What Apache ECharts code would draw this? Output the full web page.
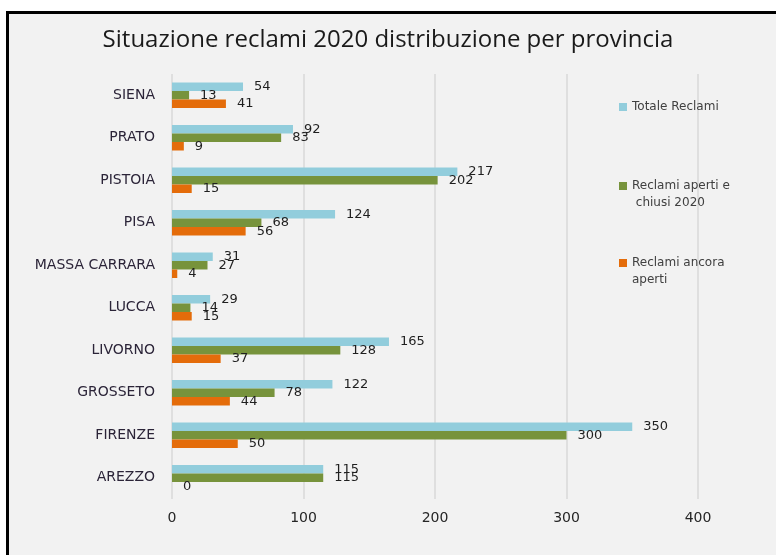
<!DOCTYPE html>
<html>
<head>
<meta charset="utf-8">
<script src="https://cdn.jsdelivr.net/npm/echarts@6/dist/echarts.min.js"></script>
<style>
  html, body { margin: 0; padding: 0; background: #fff; }
  #frame {
    position: absolute; left: 6px; top: 11px; width: 800px; height: 600px;
    border-left: 3px solid #000; border-top: 3px solid #000;
    background: #f2f2f2;
  }
  #chart { position: absolute; left: 0; top: 0; width: 776px; height: 555px; }
</style>
</head>
<body>
<div id="frame"></div>
<div id="chart"></div>
<script>
// province, top to bottom as drawn
var province = ['SIENA', 'PRATO', 'PISTOIA', 'PISA', 'MASSA CARRARA', 'LUCCA', 'LIVORNO', 'GROSSETO', 'FIRENZE', 'AREZZO']
var totaleReclami = [54, 92, 217, 124, 31, 29, 165, 122, 350, 115]
var apertiChiusi = [13, 83, 202, 68, 27, 14, 128, 78, 300, 115]
var ancoraAperti = [41, 9, 15, 56, 4, 15, 37, 44, 50, 0]
var xTicks = [0, 100, 200, 300, 400]

var nomi = ['Totale Reclami', 'Reclami aperti e chiusi 2020', 'Reclami ancora aperti']
var colori = ['#92cddc', '#77933c', '#e46c0a']

function serie(name, data, color) {
    return {
        name: name,
        type: 'bar',
        data: data,
        barWidth: 8.5,
        barGap: '0%',
        itemStyle: { color: color },
        label: {
            show: true,
            position: 'right',
            distance: 11,
            color: '#1f1f1f',
            fontFamily: 'DejaVu Sans',
            fontSize: 13
        }
    }
}

// one legend per series so each sits where the original puts it
function legenda(name, top) {
    return {
        orient: 'vertical',
        left: 619,
        top: top,
        padding: 0,
        itemWidth: 8,
        itemHeight: 8,
        icon: 'rect',
        data: [name],
        formatter: function(n) {
            // empty first line keeps the marker beside the first text line
            if (n === 'Reclami aperti e chiusi 2020') return '\nReclami aperti e\n chiusi 2020'
            if (n === 'Reclami ancora aperti') return '\nReclami ancora\naperti'
            return n
        },
        textStyle: {
            fontFamily: 'DejaVu Sans',
            fontSize: 12,
            color: '#404040',
            lineHeight: 17
        }
    }
}

var chart = echarts.init(document.getElementById('chart'))
chart.setOption({
    animation: false,
    backgroundColor: 'transparent',
    color: colori,
    title: {
        text: 'Situazione reclami 2020 distribuzione per provincia',
        left: 'center',
        top: 23,
        textStyle: {
            fontFamily: 'Open Sans',
            fontWeight: 'normal',
            fontSize: 24,
            color: '#1a1a1a'
        }
    },
    legend: [
        legenda(nomi[0], 98.5),
        legenda(nomi[1], 160.5),
        legenda(nomi[2], 237.5)
    ],
    grid: { left: 172, right: 78, top: 74, bottom: 56 },
    xAxis: {
        type: 'value',
        min: xTicks[0],
        max: xTicks[xTicks.length - 1],
        interval: 100,
        axisLine: { show: false },
        axisTick: { show: false },
        splitLine: { lineStyle: { color: '#d9d9d9', width: 1.5 } },
        axisLabel: {
            margin: 12,
            color: '#262626',
            fontFamily: 'DejaVu Sans',
            fontSize: 14
        }
    },
    yAxis: {
        type: 'category',
        data: province,
        inverse: true,
        axisLine: { show: false },
        axisTick: { show: false },
        axisLabel: {
            margin: 17,
            color: '#2b2438',
            fontFamily: 'DejaVu Sans',
            fontSize: 14
        }
    },
    series: [
        serie(nomi[0], totaleReclami, colori[0]),
        serie(nomi[1], apertiChiusi, colori[1]),
        serie(nomi[2], ancoraAperti, colori[2])
    ]
})
</script>
</body>
</html>
